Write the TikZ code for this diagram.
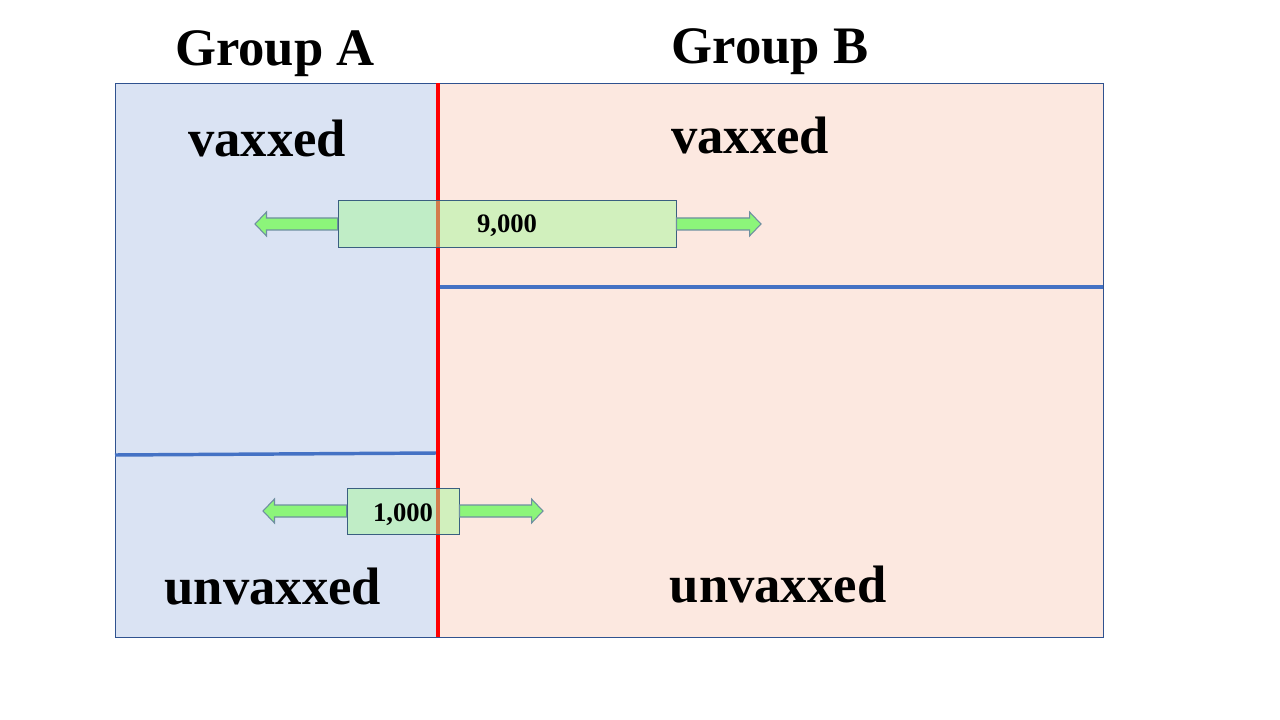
\documentclass[tikz,border=0pt]{standalone}
\usepackage{fontspec}
\setmainfont{Liberation Serif}
\usetikzlibrary{calc}
\definecolor{bgA}{HTML}{DAE3F3}
\definecolor{bgB}{HTML}{FCE8E0}
\definecolor{frameC}{HTML}{2F528F}
\definecolor{divC}{HTML}{4472C4}
\definecolor{boxG}{HTML}{A8F89B}
\definecolor{boxE}{HTML}{3A5F80}
\definecolor{arrG}{HTML}{8CF57A}
\definecolor{arrE}{HTML}{6E8FA0}
\tikzset{
  x=0.75pt, y=-0.75pt,
  bigtxt/.style={font=\fontsize{39.5}{46}\selectfont\bfseries, anchor=base, inner sep=0pt},
  numtxt/.style={font=\fontsize{20}{24}\selectfont\bfseries, anchor=base, inner sep=0pt},
  countbox/.style={draw=boxE, line width=0.7pt, fill=boxG, fill opacity=0.5, draw opacity=1, inner sep=0pt},
  blockarr/.style={draw=arrE, line width=0.8pt, fill=arrG},
  divider/.style={draw=divC, line width=2.6pt},
  panel/.style={draw=frameC, line width=0.8pt, inner sep=0pt, anchor=north west},
}
% #1 base (on box edge), #2 tip coordinate, #3 = +1 right-pointing, -1 left-pointing
\newcommand\blockarrow[3]{%
  \draw[blockarr] let \p1=(#1), \p2=(#2) in
    (\x2,\y2) -- ({\x2-#3*8.6pt},{\y2+9pt}) -- ({\x2-#3*8.6pt},{\y2+4.5pt}) --
    (\x1,{\y2+4.5pt}) -- (\x1,{\y2-4.5pt}) -- ({\x2-#3*8.6pt},{\y2-4.5pt}) --
    ({\x2-#3*8.6pt},{\y2-9pt}) -- cycle;}
\begin{document}
\begin{tikzpicture}
\useasboundingbox (0,0) rectangle (1280,720);
\fill[white] (0,0) rectangle (1280,720);
% panels
\node[panel, fill=bgA, minimum width=323*0.75pt, minimum height=554*0.75pt] (pa) at (115,83) {};
\node[panel, fill=bgB, minimum width=665*0.75pt, minimum height=554*0.75pt] (pb) at (438,83) {};
% dividers
\coordinate (da1) at (115,455);
\coordinate (da2) at (437,453);
\coordinate (db1) at (440,287);
\coordinate (db2) at (1103,287);
\draw[divider] (da1) -- (da2);
\draw[divider] (db1) -- (db2);
% red separator
\coordinate (r1) at (438,83);
\coordinate (r2) at (438,637);
\draw[red, line width=3.2pt] (r1) -- (r2);
% count boxes
\node[countbox, minimum width=338*0.75pt, minimum height=47*0.75pt] (b9) at (507,223.5) {};
\node[countbox, minimum width=112*0.75pt, minimum height=46*0.75pt] (b1) at (403,511) {};
% arrows
\coordinate (t9l) at (255,224);
\coordinate (t9r) at (761,224);
\coordinate (t1l) at (263,511);
\coordinate (t1r) at (543,511);
\blockarrow{b9.west}{t9l}{-1}
\blockarrow{b9.east}{t9r}{1}
\blockarrow{b1.west}{t1l}{-1}
\blockarrow{b1.east}{t1r}{1}
% numbers
\node[numtxt] (n9) at (507,233) {9,000};
\node[numtxt] (n1) at (403,521) {1,000};
% titles and labels
\node[bigtxt] (ga) at (275,66) {Group A};
\node[bigtxt] (gb) at (770,64) {Group B};
\node[bigtxt] (va) at (267,157) {vaxxed};
\node[bigtxt] (vb) at (750,154) {vaxxed};
\node[bigtxt] (ua) at (273,604) {unvaxxed};
\node[bigtxt] (ub) at (778,602) {unvaxxed};
\end{tikzpicture}
\end{document}
